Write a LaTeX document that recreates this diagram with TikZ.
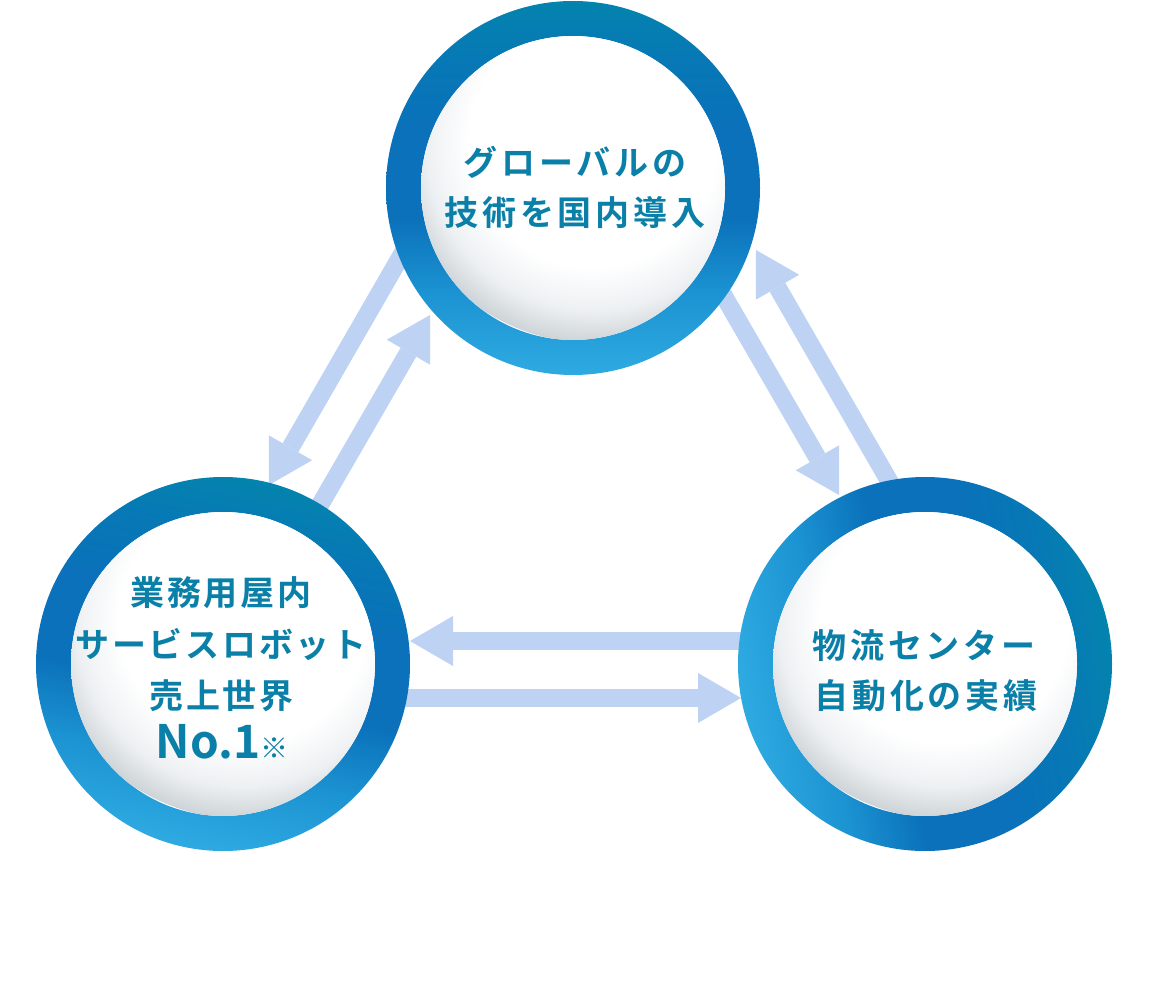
\documentclass[tikz,border=0pt]{standalone}
\usepackage{fontspec}
\newfontfamily\jp{Noto Sans CJK JP}[BoldFont={Noto Sans CJK JP Bold}]
\usetikzlibrary{arrows.meta}
\definecolor{ringTop}{HTML}{0483AE}
\definecolor{ringMidB}{HTML}{0777B6}
\definecolor{ringMid}{HTML}{0A71BA}
\definecolor{ringLow}{HTML}{1C93D2}
\definecolor{ringBot}{HTML}{2EAAE1}
\definecolor{arrowBlue}{HTML}{BED3F3}
\definecolor{txtBlue}{HTML}{0A7FA8}
\definecolor{sphGray}{HTML}{CDD3D7}
\definecolor{sphLight}{HTML}{EDF0F2}
\pgfdeclareradialshading{sphere}{\pgfpoint{0bp}{0bp}}{color(0bp)=(white); color(15.5bp)=(white); color(21bp)=(sphLight); color(25bp)=(sphGray); color(50bp)=(sphGray)}
\pgfdeclareverticalshading{ringsh}{100bp}{color(0bp)=(ringBot); color(25bp)=(ringBot); color(36bp)=(ringLow); color(46bp)=(ringMid); color(58bp)=(ringMid); color(66bp)=(ringMidB); color(75bp)=(ringTop); color(100bp)=(ringTop)}
\tikzset{
  arr/.style={draw=arrowBlue, line width=18pt, -{Triangle[length=43pt,width=50pt,line width=0pt]}},
  lbl/.style={text=txtBlue, font=\jp\bfseries\fontsize{34}{40}\selectfont\addfontfeature{LetterSpace=11}, inner sep=0pt, anchor=center},
  lblL/.style={lbl, font=\jp\bfseries\fontsize{34}{40}\selectfont\addfontfeature{LetterSpace=8}},
  ringshade/.style={even odd rule, shading=ringsh, shading angle=#1},
}
\newcommand\ballpic[2]{%
  \shade[ringshade=#2] (#1) circle (187pt) (#1) circle (152pt);
  \begin{scope}
    \clip (#1) circle (152pt);
    \shade[shading=sphere] ([shift={(20,-45)}]#1) circle (200pt);
  \end{scope}}
\begin{document}
\begin{tikzpicture}[x=1pt,y=-1pt]
\useasboundingbox (0,0) rectangle (1154,984);
\fill[white] (0,0) rectangle (1154,984);
% centres
\coordinate (ctop) at (573,188);
\coordinate (cleft) at (223,664);
\coordinate (cright) at (925,664);
% arrow ends
\coordinate (a1s) at (405,249);   \coordinate (a1t) at (269,485);
\coordinate (a2s) at (316.5,511); \coordinate (a2t) at (430,315);
\coordinate (a3s) at (717.5,285); \coordinate (a3t) at (839,495);
\coordinate (a4s) at (892,486);   \coordinate (a4t) at (756,250);
\coordinate (a5s) at (760,641);   \coordinate (a5t) at (410,641);
\coordinate (a6s) at (390,698);   \coordinate (a6t) at (741,698);
\draw[arr] (a1s) -- (a1t);
\draw[arr] (a2s) -- (a2t);
\draw[arr] (a3s) -- (a3t);
\draw[arr] (a4s) -- (a4t);
\draw[arr] (a5s) -- (a5t);
\draw[arr] (a6s) -- (a6t);
% circles
\ballpic{ctop}{0}
\ballpic{cleft}{-12}
\ballpic{cright}{-80}
% texts
\node[lbl] (t1) at (575,162) {グローバルの};
\node[lbl] (t2) at (575,213) {技術を国内導入};
\node[lblL] (l1) at (221,593) {業務用屋内};
\node[lblL] (l2) at (221,645) {サービスロボット};
\node[lblL] (l3) at (221.5,696) {売上世界};
\node[text=txtBlue, inner sep=0pt] (l4) at (222,742) {\jp\bfseries\fontsize{46}{50}\selectfont No.1{\mdseries\fontsize{28}{30}\selectfont ※}};
\node[lbl] (r1) at (924,646) {物流センター};
\node[lbl] (r2) at (926,696) {自動化の実績};
\end{tikzpicture}
\end{document}
